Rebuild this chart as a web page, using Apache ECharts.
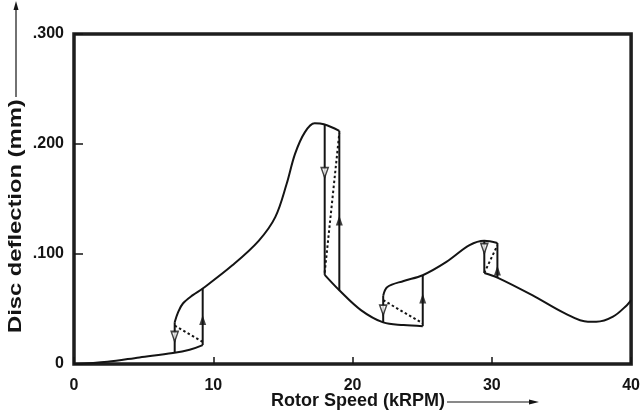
<!DOCTYPE html>
<html>
<head>
<meta charset="utf-8">
<style>
  html, body { margin: 0; padding: 0; background: #fff; }
  #chart { width: 643px; height: 412px; }
</style>
<script src="https://cdn.jsdelivr.net/npm/echarts@6/dist/echarts.min.js"></script>
</head>
<body>
<div id="chart"></div>
<script>
// Disc deflection vs rotor speed: stable branches, jumps and unstable branches
const xTicks = [0, 10, 20, 30, 40];
const yTicks = [0, 0.1, 0.2, 0.3];
const yTickLabels = ['0', '.100', '.200', '.300'];

// stable response branches (kRPM, mm)
const lowerBranch1 = [[0, 0], [2.4, 0.002], [4.7, 0.006], [7.1, 0.010], [8.3, 0.013], [9.24, 0.0172]];
const upperBranch1 = [[7.23, 0.038], [7.47, 0.047], [7.82, 0.055], [8.53, 0.0626], [9.24, 0.0686],
  [11.37, 0.0897], [13.26, 0.112], [14.45, 0.1335], [15.27, 0.1638], [15.87, 0.191],
  [16.57, 0.2106], [17.28, 0.2188], [17.94, 0.218], [19.05, 0.212]];
const lowerBranch2 = [[18.0, 0.081], [19.05, 0.067], [20.6, 0.049], [22.2, 0.0378], [23.66, 0.0354], [25.04, 0.0344]];
const upperBranch2 = [[22.2, 0.062], [22.5, 0.070], [23.67, 0.0755], [25.04, 0.0807], [26.74, 0.0928],
  [28.4, 0.108], [29.46, 0.112], [30.4, 0.110]];
const lowerBranch3 = [[29.46, 0.0828], [30.4, 0.0786], [32.9, 0.0626], [35.25, 0.046], [36.9, 0.0384],
  [37.5, 0.0384], [38.7, 0.043], [39.7, 0.0535], [40, 0.058]];

// jump-down (decreasing speed) and jump-up (increasing speed) transitions
const jumpsDown = [
  [[7.23, 0.038], [7.23, 0.0103]],
  [[18.0, 0.218], [18.0, 0.081]],
  [[22.2, 0.062], [22.2, 0.0375]],
  [[29.46, 0.112], [29.46, 0.0828]]
];
const jumpsUp = [
  [[9.24, 0.0172], [9.24, 0.0686]],
  [[19.05, 0.067], [19.05, 0.212]],
  [[25.04, 0.0344], [25.04, 0.0807]],
  [[30.4, 0.0786], [30.4, 0.110]]
];
// unstable branches (dotted)
const unstableBranches = [
  [[7.23, 0.035], [9.24, 0.020]],
  [[18.0, 0.083], [19.05, 0.210]],
  [[22.2, 0.058], [25.04, 0.037]],
  [[29.46, 0.0828], [30.4, 0.108]]
];
// arrowheads on the jumps
const arrowsDown = [[7.23, 0.025], [18.0, 0.174], [22.2, 0.049], [29.46, 0.105]];
const arrowsUp = [[9.24, 0.040], [19.05, 0.1305], [25.04, 0.0595], [30.4, 0.085]];

const INK = '#141414';
const FONT = 'Liberation Sans, Arial, Helvetica, sans-serif';

function curve(data) {
  return { type: 'line', data: data, smooth: 0.35, showSymbol: false, silent: true,
    lineStyle: { color: INK, width: 2 } };
}
function straight(data, dashed) {
  return { type: 'line', data: data, smooth: false, showSymbol: false, silent: true,
    lineStyle: { color: INK, width: 2, type: dashed ? [2.5, 2.5] : 'solid' } };
}

const series = [
  curve(lowerBranch1), curve(upperBranch1), curve(lowerBranch2),
  curve(upperBranch2), curve(lowerBranch3)
];
jumpsDown.forEach(d => series.push(straight(d, false)));
jumpsUp.forEach(d => series.push(straight(d, false)));
unstableBranches.forEach(d => series.push(straight(d, true)));
series.push({ type: 'scatter', data: arrowsDown, symbol: 'triangle', symbolRotate: 180,
  symbolSize: [7, 10], silent: true, z: 5,
  itemStyle: { color: '#fff', borderColor: INK, borderWidth: 1.6 } });
series.push({ type: 'scatter', data: arrowsUp, symbol: 'triangle',
  symbolSize: [7, 10], silent: true, z: 5, itemStyle: { color: INK } });

const chart = echarts.init(document.getElementById('chart'), null, { renderer: 'canvas' });
chart.setOption({
  animation: false,
  backgroundColor: '#fff',
  grid: { left: 74, right: 7, top: 34, bottom: 48, show: true,
    borderColor: '#1e1e1e', borderWidth: 3.5, backgroundColor: 'transparent' },
  xAxis: {
    type: 'value', min: xTicks[0], max: xTicks[xTicks.length - 1], interval: 10,
    axisLine: { show: false },
    axisTick: { show: true, inside: true, length: 7, lineStyle: { color: INK, width: 1.5 } },
    splitLine: { show: false },
    axisLabel: { margin: 14, color: INK, fontFamily: FONT, fontWeight: 'bold', fontSize: 16,
      formatter: v => String(v) }
  },
  yAxis: {
    type: 'value', min: yTicks[0], max: yTicks[yTicks.length - 1], interval: 0.1,
    axisLine: { show: false },
    axisTick: { show: true, inside: true, length: 9, lineStyle: { color: INK, width: 1.5 } },
    splitLine: { show: false },
    axisLabel: { margin: 10, color: INK, fontFamily: FONT, fontWeight: 'bold', fontSize: 16,
      formatter: v => yTickLabels[Math.round(v * 10)] }
  },
  graphic: [
    { type: 'text', x: 16, y: 333, rotation: Math.PI / 2, scaleX: 1.32, silent: true,
      style: { text: 'Disc deflection (mm)', font: 'bold 18px ' + FONT, fill: INK,
        textAlign: 'left', textVerticalAlign: 'middle' } },
    { type: 'line', silent: true, shape: { x1: 16, y1: 97, x2: 16, y2: 6 },
      style: { stroke: INK, lineWidth: 1.2 } },
    { type: 'polygon', silent: true, shape: { points: [[16, 1], [13.5, 10], [18.5, 10]] },
      style: { fill: INK } },
    { type: 'text', x: 271, y: 401, silent: true,
      style: { text: 'Rotor Speed (kRPM)', font: 'bold 18px ' + FONT, fill: INK,
        textAlign: 'left', textVerticalAlign: 'middle' } },
    { type: 'line', silent: true, shape: { x1: 447, y1: 402, x2: 532, y2: 402 },
      style: { stroke: INK, lineWidth: 1.2 } },
    { type: 'polygon', silent: true, shape: { points: [[539, 402], [529, 399.5], [529, 404.5]] },
      style: { fill: INK } }
  ],
  series: series
});
</script>
</body>
</html>
